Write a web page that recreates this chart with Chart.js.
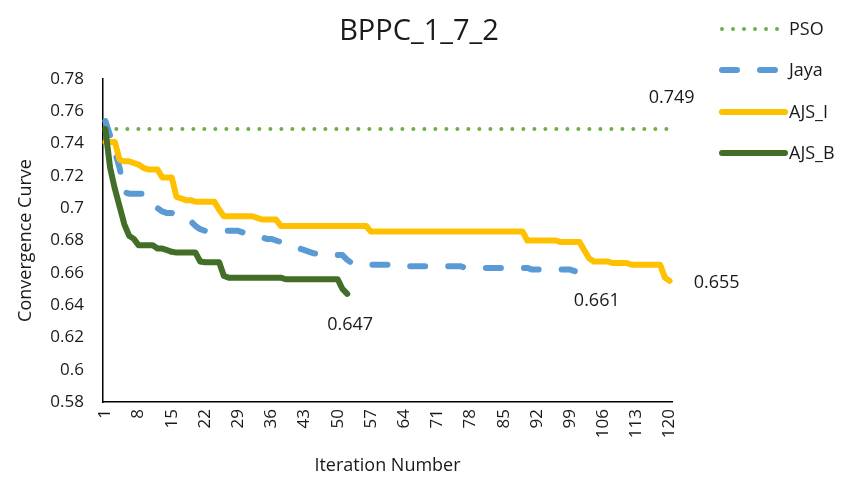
<!DOCTYPE html>
<html><head><meta charset="utf-8">
<script src="https://cdn.jsdelivr.net/npm/chart.js@4/dist/chart.umd.min.js"></script>
<style>html,body{margin:0;padding:0;background:#fff}#wrap{width:846px;height:481px}</style>
</head><body><div id="wrap"><canvas id="c" width="846" height="481"></canvas></div>
<script>
const chartTitle = 'BPPC_1_7_2';
const xAxisTitle = 'Iteration Number';
const yAxisTitle = 'Convergence Curve';
const seriesNames = ['PSO', 'Jaya', 'AJS_I', 'AJS_B'];
const iterations = Array.from({length: 120}, (_, i) => String(i + 1));

const psoValues = [
  0.749,0.749,0.749,0.749,0.749,0.749,0.749,0.749,0.749,0.749,
  0.749,0.749,0.749,0.749,0.749,0.749,0.749,0.749,0.749,0.749,
  0.749,0.749,0.749,0.749,0.749,0.749,0.749,0.749,0.749,0.749,
  0.749,0.749,0.749,0.749,0.749,0.749,0.749,0.749,0.749,0.749,
  0.749,0.749,0.749,0.749,0.749,0.749,0.749,0.749,0.749,0.749,
  0.749,0.749,0.749,0.749,0.749,0.749,0.749,0.749,0.749,0.749,
  0.749,0.749,0.749,0.749,0.749,0.749,0.749,0.749,0.749,0.749,
  0.749,0.749,0.749,0.749,0.749,0.749,0.749,0.749,0.749,0.749,
  0.749,0.749,0.749,0.749,0.749,0.749,0.749,0.749,0.749,0.749,
  0.749,0.749,0.749,0.749,0.749,0.749,0.749,0.749,0.749,0.749,
  0.749,0.749,0.749,0.749,0.749,0.749,0.749,0.749,0.749,0.749,
  0.749,0.749,0.749,0.749,0.749,0.749,0.749,0.749,0.749,0.749
];
const jayaValues = [
  0.754,0.745,0.735,0.725,0.710,0.709,0.709,0.709,0.709,0.707,
  0.703,0.700,0.698,0.697,0.697,0.696,0.695,0.693,0.692,0.689,
  0.687,0.686,0.686,0.686,0.686,0.686,0.686,0.686,0.686,0.685,
  0.685,0.684,0.683,0.682,0.681,0.681,0.680,0.679,0.678,0.677,
  0.676,0.675,0.674,0.673,0.672,0.672,0.672,0.671,0.671,0.671,
  0.671,0.668,0.666,0.665,0.665,0.665,0.665,0.665,0.665,0.665,
  0.665,0.664,0.664,0.664,0.664,0.664,0.664,0.664,0.664,0.664,
  0.664,0.664,0.664,0.664,0.664,0.664,0.663,0.663,0.663,0.663,
  0.663,0.663,0.663,0.663,0.663,0.663,0.663,0.663,0.663,0.663,
  0.662,0.662,0.662,0.662,0.662,0.662,0.662,0.662,0.662,0.661
];
const ajsIValues = [
  0.741,0.741,0.741,0.730,0.729,0.729,0.728,0.727,0.725,0.724,
  0.724,0.724,0.719,0.719,0.719,0.707,0.706,0.705,0.705,0.704,
  0.704,0.704,0.704,0.704,0.699,0.695,0.695,0.695,0.695,0.695,
  0.695,0.695,0.694,0.693,0.693,0.693,0.693,0.689,0.689,0.689,
  0.689,0.689,0.689,0.689,0.689,0.689,0.689,0.689,0.689,0.689,
  0.689,0.689,0.689,0.689,0.689,0.689,0.6855,0.6855,0.6855,0.6855,
  0.6855,0.6855,0.6855,0.6855,0.6855,0.6855,0.6855,0.6855,0.6855,0.6855,
  0.6855,0.6855,0.6855,0.6855,0.6855,0.6855,0.6855,0.6855,0.6855,0.6855,
  0.6855,0.6855,0.6855,0.6855,0.6855,0.6855,0.6855,0.6855,0.6855,0.680,
  0.680,0.680,0.680,0.680,0.680,0.680,0.679,0.679,0.679,0.679,
  0.679,0.674,0.669,0.667,0.667,0.667,0.667,0.666,0.666,0.666,
  0.666,0.665,0.665,0.665,0.665,0.665,0.665,0.665,0.657,0.655
];
const ajsBValues = [
  0.749,0.725,0.712,0.701,0.690,0.683,0.681,0.677,0.677,0.677,
  0.677,0.675,0.675,0.674,0.673,0.6725,0.6725,0.6725,0.6725,0.6725,
  0.667,0.6665,0.6665,0.6665,0.6665,0.658,0.657,0.657,0.657,0.657,
  0.657,0.657,0.657,0.657,0.657,0.657,0.657,0.657,0.656,0.656,
  0.656,0.656,0.656,0.656,0.656,0.656,0.656,0.656,0.656,0.656,
  0.650,0.647
];

const FONT = "'Open Sans', 'DejaVu Sans', sans-serif";
const TEXT = '#1a1a1a';

const seriesStyles = [
  {color: '#70AD47', width: 4, dash: [0, 11], order: 4},
  {color: '#5B9BD5', width: 6, dash: [15, 23], order: 3},
  {color: '#FFC000', width: 6, dash: [], order: 2},
  {color: '#426E28', width: 6, dash: [], order: 1}
];
const seriesData = [psoValues, jayaValues, ajsIValues, ajsBValues];
// label offset (dx, dy) and alignment relative to last point of each series
const labelPlacement = [
  {dx: 2, dy: -31, align: 'center'},
  {dx: 22, dy: 30, align: 'center'},
  {dx: 24, dy: 2, align: 'left'},
  {dx: 3, dy: 31, align: 'center'}
];

const datasets = seriesNames.map((name, i) => ({
  label: name,
  data: seriesData[i],
  borderColor: seriesStyles[i].color,
  backgroundColor: seriesStyles[i].color,
  borderWidth: seriesStyles[i].width,
  borderDash: seriesStyles[i].dash,
  borderCapStyle: 'round',
  borderJoinStyle: 'round',
  pointRadius: 0,
  tension: 0,
  fill: false,
  order: seriesStyles[i].order
}));

const annotPlugin = {
  id: 'annot',
  afterDraw(chart) {
    const ctx = chart.ctx;
    ctx.save();
    ctx.fillStyle = TEXT;
    ctx.font = `29px ${FONT}`;
    ctx.textAlign = 'center';
    ctx.textBaseline = 'alphabetic';
    ctx.fillText(chartTitle, 419, 40);
    const legendY = [29, 70, 112, 153];
    seriesNames.forEach((name, i) => {
      const st = seriesStyles[i];
      ctx.save();
      ctx.strokeStyle = st.color;
      ctx.lineWidth = st.width;
      ctx.lineCap = 'round';
      ctx.setLineDash(st.dash);
      ctx.beginPath();
      ctx.moveTo(722, legendY[i]);
      ctx.lineTo(785, legendY[i]);
      ctx.stroke();
      ctx.restore();
      ctx.fillStyle = TEXT;
      ctx.font = `18px ${FONT}`;
      ctx.textAlign = 'left';
      ctx.textBaseline = 'middle';
      ctx.fillText(name, 789, legendY[i] + 1);
    });
    const xs = chart.scales.x, ys = chart.scales.y;
    seriesData.forEach((vals, i) => {
      const idx = vals.length - 1;
      const v = vals[idx];
      const px = xs.getPixelForValue(idx);
      const py = ys.getPixelForValue(v);
      const p = labelPlacement[i];
      ctx.fillStyle = TEXT;
      ctx.font = `18px ${FONT}`;
      ctx.textAlign = p.align;
      ctx.textBaseline = 'middle';
      ctx.fillText(v.toFixed(3), px + p.dx, py + p.dy);
    });
    ctx.restore();
  }
};

new Chart(document.getElementById('c'), {
  type: 'line',
  data: {labels: iterations, datasets},
  options: {
    responsive: false,
    animation: false,
    devicePixelRatio: 1,
    layout: {padding: {top: 79, right: 174, bottom: 0, left: 0}},
    plugins: {legend: {display: false}, tooltip: {enabled: false}, title: {display: false}},
    scales: {
      x: {
        type: 'category',
        offset: true,
        grid: {display: false, drawTicks: false},
        border: {display: true, color: '#000', width: 1.5},
        ticks: {
          autoSkip: false, minRotation: 90, maxRotation: 90, padding: 7,
          color: TEXT, font: {family: FONT, size: 17},
          callback: (v, i) => (i % 7 === 0 ? iterations[i] : '')
        },
        title: {display: true, text: xAxisTitle, color: TEXT, font: {family: FONT, size: 18}, padding: {top: 0, bottom: 4}},
        afterFit: s => { s.height = 79; }
      },
      y: {
        min: 0.58, max: 0.78,
        grid: {display: false, drawTicks: false},
        border: {display: true, color: '#000', width: 1.5},
        ticks: {
          stepSize: 0.02, padding: 19, color: TEXT, font: {family: FONT, size: 17},
          callback: v => String(Number(v.toFixed(2)))
        },
        title: {display: true, text: yAxisTitle, color: TEXT, font: {family: FONT, size: 18}, padding: {top: 15, bottom: 0}},
        afterFit: s => { s.width = 103; }
      }
    }
  },
  plugins: [annotPlugin]
});
</script>
</body></html>
